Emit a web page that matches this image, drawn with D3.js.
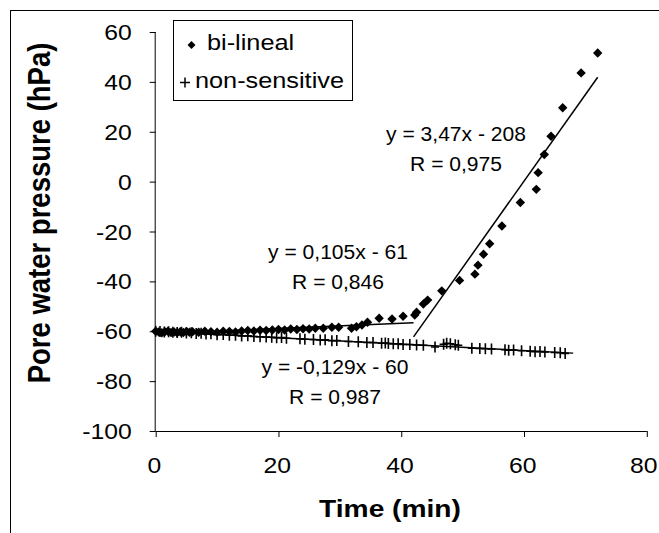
<!DOCTYPE html>
<html>
<head>
<meta charset="utf-8">
<script src="https://cdn.jsdelivr.net/npm/d3@7"></script>
<style>
  body { margin: 0; background: #fff; }
  svg text { font-family: "Liberation Sans", Arial, sans-serif; fill: #000; }
</style>
</head>
<body>
<div id="chart"></div>
<script>
// bi-lineal series (diamonds)
const bilinealTime = [0, 0.5, 1, 1.5, 2, 2.5, 3, 3.5, 4, 4.5, 5, 5.5, 6, 7, 8, 9, 10, 11, 12, 13, 14, 15, 16, 17, 18, 19, 20, 21, 22, 23, 24, 25, 26,
  27.3, 28.7, 29.8, 31.9, 32.7, 33.6, 34.5, 36.4, 38.5, 40.3, 42.2, 42.5, 43.6, 44.3, 46.6, 49.5, 52.0, 52.5, 53.4, 54.4, 56.4,
  59.4, 62.0, 62.3, 63.3, 64.4, 66.3, 69.3, 72.0];
const bilinealPressure = [-60, -60.3, -60.6, -60.2, -60, -60.5, -60.3, -60.6, -60.2, -60.5, -60.1, -60.4, -60.2, -60.4, -60, -60.2, -60.4, -60, -60.1, -60.3, -59.9, -59.7, -59.9, -59.6, -59.7, -59.5, -59.3, -59.5, -59.1, -59.3, -59, -59.1, -58.8,
  -58.8, -58.4, -58.4, -58.8, -58.2, -57.5, -56.4, -54.8, -55.1, -54.0, -53.5, -52.4, -49.1, -47.5, -43.8, -39.6, -37.1, -33.5, -29.1, -24.9, -17.8,
  -8.4, -3.1, 3.6, 10.9, 18.2, 29.6, 43.6, 51.6];

// non-sensitive series (plus signs)
const nonSensTime = [0, 0.7, 1.4, 2.1, 2.8, 3.5, 4.2, 5, 5.8, 6.6, 7.4, 8.2, 9, 10, 11, 12, 13, 14, 15, 16, 17, 18, 18.9, 19.7, 20.5, 21.3,
  23.5, 24.3, 25.7, 26.8, 27.6, 28.7, 29.5, 31.4, 33.0, 34.4, 35.4, 36.8, 37.4, 37.9, 38.7, 39.5, 40.3, 41.4, 42.5, 43.6, 45.5,
  46.9, 47.4, 48.0, 48.8, 49.3, 51.5, 52.8, 53.7, 54.7, 56.9, 57.5, 58.3, 59.6, 61.0, 61.8, 62.6, 63.4, 65.0, 65.9, 66.7];
const nonSensPressure = [-60, -60.1, -60.3, -60.2, -60.4, -60.5, -60.4, -60.7, -60.6, -60.9, -60.8, -61.1, -61.0, -61.4, -61.3, -61.6, -61.6, -61.9, -61.8, -62.1, -62.2, -62.3, -62.4, -62.6, -62.5, -62.8,
  -63.0, -63.2, -63.3, -63.5, -63.4, -63.8, -63.7, -64.1, -64.2, -64.5, -64.5, -64.8, -64.7, -64.9, -65.0, -65.0, -65.3, -65.3, -65.5, -65.6, -66.3,
  -65.2, -64.8, -65.0, -65.4, -65.6, -66.8, -66.9, -67.0, -67.1, -67.4, -67.6, -67.5, -67.8, -68.0, -68.2, -68.1, -68.3, -68.5, -68.6, -68.9];

// trend lines as printed on the chart: slope, intercept, time range
const trendSlope = [0.105, 3.47, -0.129];
const trendIntercept = [-61, -208, -60];
const trendFrom = [0, 42, 0];
const trendTo = [42, 72, 68];
const trendEquation = ["y = 0,105x - 61", "y = 3,47x - 208", "y = -0,129x - 60"];
const trendR = ["R = 0,846", "R = 0,975", "R = 0,987"];

const xTicks = [0, 20, 40, 60, 80];
const yTicks = [-100, -80, -60, -40, -20, 0, 20, 40, 60];
const legendLabels = ["bi-lineal", "non-sensitive"];

const width = 659, height = 533;
const margin = { left: 155.7, right: 12.2, top: 32, bottom: 102 };
// the picture's text is a bit wider than Arial, stretch it sideways
const stretch = 1.15;

const svg = d3.select("#chart").append("svg")
  .attr("width", width)
  .attr("height", height);

// outer chart frame (bottom/right run off the picture)
svg.append("rect")
  .attr("x", 10.5).attr("y", 10.5)
  .attr("width", width + 20).attr("height", height + 20)
  .attr("fill", "none").attr("stroke", "#000").attr("stroke-width", 1);

const x = d3.scaleLinear().domain([0, 80]).range([margin.left, width - margin.right]);
const y = d3.scaleLinear().domain([-100, 60]).range([height - margin.bottom, margin.top]);

// axes (plain hyphen for negatives, like the original)
const fmt = (d) => String(d);
const xAxis = svg.append("g")
  .attr("transform", `translate(0,${y(-100)})`)
  .call(d3.axisBottom(x).tickValues(xTicks).tickSize(6).tickFormat(fmt));
const yAxis = svg.append("g")
  .attr("transform", `translate(${x(0)},0)`)
  .call(d3.axisLeft(y).tickValues(yTicks).tickSize(6).tickFormat(fmt));

[xAxis, yAxis].forEach((g) => {
  g.select(".domain").attr("stroke", "#000").attr("stroke-width", 1);
  g.selectAll(".tick line").attr("stroke", "#000");
  g.selectAll(".tick text")
    .attr("font-family", "Liberation Sans, Arial, sans-serif")
    .attr("font-size", 21.5)
    .attr("fill", "#000")
    .attr("transform", `scale(${stretch},1)`);
});
xAxis.selectAll(".tick text").attr("y", 42).attr("dy", null)
  .attr("x", (d) => d === 80 ? -3 : -1.5);
yAxis.selectAll(".tick text").attr("x", -24 / stretch).attr("dy", "0.35em");
// plain axis lines without the outer end ticks
xAxis.select(".domain").attr("d", `M${x(0)},0.5H${x(80)}`);
yAxis.select(".domain").attr("d", `M-0.5,${y(60)}V${y(-100)}`);

// axis titles
svg.append("text")
  .attr("transform", `translate(390,517) scale(${stretch},1)`)
  .attr("text-anchor", "middle")
  .attr("font-size", 24.5)
  .attr("font-weight", "bold")
  .text("Time (min)");

svg.append("text")
  .attr("transform", `translate(50,213) scale(${stretch},1) rotate(-90)`)
  .attr("text-anchor", "middle")
  .attr("font-size", 27.5)
  .attr("font-weight", "bold")
  .text("Pore water pressure (hPa)");

// marker shapes
const diamond = "M0,-4.7L4.7,0L0,4.7L-4.7,0Z";
const plus = "M-4,0H4M0,-5.5V5.5";

// trend lines under the markers
const trends = trendSlope.map((s, i) => ({ s: s, b: trendIntercept[i], t0: trendFrom[i], t1: trendTo[i] }));
svg.append("g").selectAll("line")
  .data(trends)
  .join("line")
  .attr("x1", (d) => x(d.t0))
  .attr("y1", (d) => y(d.s * d.t0 + d.b))
  .attr("x2", (d) => x(d.t1))
  .attr("y2", (d) => y(d.s * d.t1 + d.b))
  .attr("stroke", "#000")
  .attr("stroke-width", 1.5);

const nonSens = nonSensTime.map((t, i) => ({ t: t, p: nonSensPressure[i] }));
svg.append("g").selectAll("path")
  .data(nonSens)
  .join("path")
  .attr("transform", (d) => `translate(${x(d.t)},${y(d.p)})`)
  .attr("d", plus)
  .attr("fill", "none")
  .attr("stroke", "#000")
  .attr("stroke-width", 1.6);

const bilineal = bilinealTime.map((t, i) => ({ t: t, p: bilinealPressure[i] }));
svg.append("g").selectAll("path")
  .data(bilineal)
  .join("path")
  .attr("transform", (d) => `translate(${x(d.t)},${y(d.p)})`)
  .attr("d", diamond)
  .attr("fill", "#000");

// equation labels: centre x, first baseline
const labelPos = [[338, 259], [456, 141], [335, 374]];
labelPos.forEach((pos, i) => {
  const t = svg.append("text")
    .attr("transform", `translate(${pos[0]},${pos[1]}) scale(1.08,1)`)
    .attr("text-anchor", "middle")
    .attr("font-size", 19.5);
  t.append("tspan").attr("x", 0).attr("y", 0).text(trendEquation[i]);
  t.append("tspan").attr("x", 0).attr("y", 30).text(trendR[i]);
});

// legend
const legend = svg.append("g");
legend.append("rect")
  .attr("x", 173.5).attr("y", 20.5)
  .attr("width", 179).attr("height", 80)
  .attr("fill", "#fff").attr("stroke", "#000");
legend.append("path")
  .attr("transform", "translate(191.5,45)")
  .attr("d", "M0,-4L4,0L0,4L-4,0Z")
  .attr("fill", "#000");
legend.append("path")
  .attr("transform", "translate(185,82.5)")
  .attr("d", "M-5,0H5M0,-5V5")
  .attr("stroke", "#000").attr("stroke-width", 1.5);
legend.selectAll("text")
  .data(legendLabels)
  .join("text")
  .attr("transform", (d, i) => `translate(${i === 0 ? 207 : 195},${i === 0 ? 50 : 88}) scale(${stretch},1)`)
  .attr("font-size", 22)
  .text((d) => d);
</script>
</body>
</html>
